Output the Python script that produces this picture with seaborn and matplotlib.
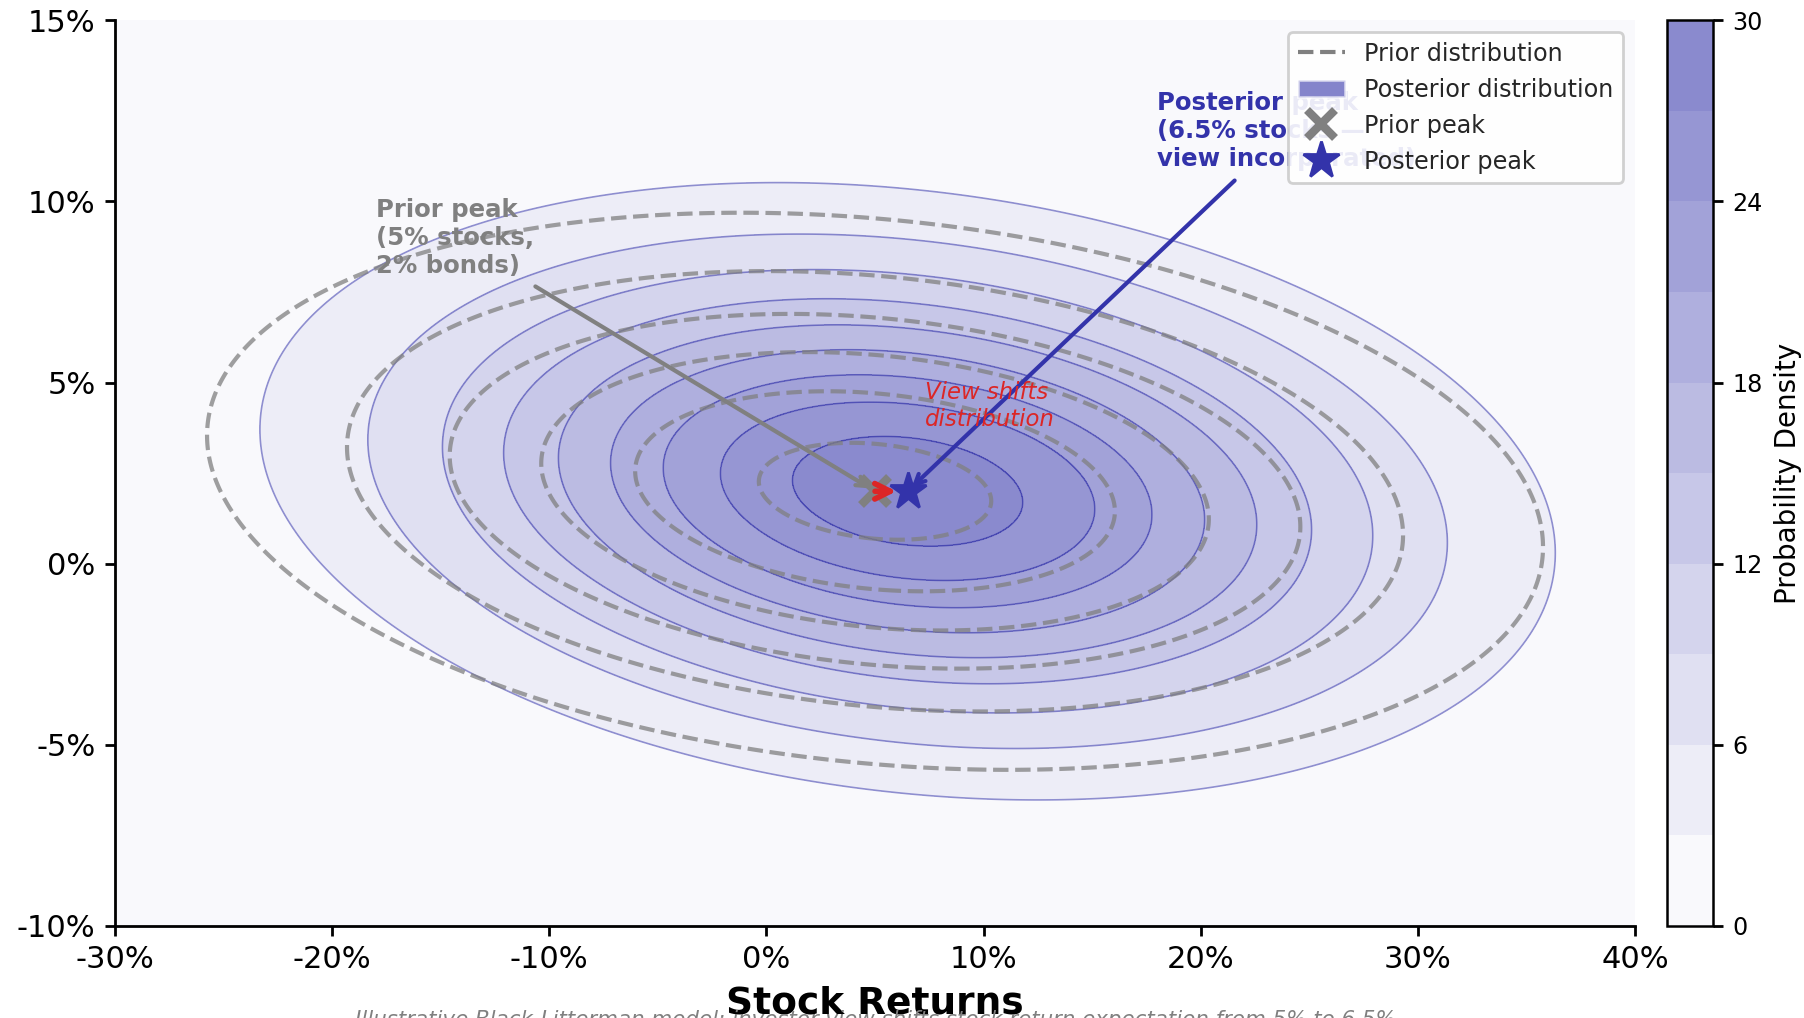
import numpy as np
import matplotlib
matplotlib.use("Agg")
import matplotlib.pyplot as plt
import seaborn as sns
from matplotlib.colors import LinearSegmentedColormap
from matplotlib.lines import Line2D
from matplotlib.patches import Patch
from matplotlib.ticker import FuncFormatter

# prior and posterior (stock return, bond return)
prior_mean = [0.05, 0.02]
prior_std = [0.16, 0.04]
posterior_mean = [0.065, 0.02]
posterior_std = [0.14, 0.04]
corr = -0.2

density_levels = [0, 3, 6, 9, 12, 15, 18, 21, 24, 27, 30]
prior_levels = [4, 8, 12, 16, 20, 24]
cbar_ticks = [0, 6, 12, 18, 24, 30]
x_ticks = [-0.3, -0.2, -0.1, 0.0, 0.1, 0.2, 0.3, 0.4]
y_ticks = [-0.10, -0.05, 0.0, 0.05, 0.10, 0.15]

blue = "#3333aa"
red = "#dc2626"
caption = ("Illustrative Black-Litterman model: investor view shifts stock "
           "return expectation from 5% to 6.5%")


def bvn_pdf(X, Y, mean, std, rho):
    zx = (X - mean[0]) / std[0]
    zy = (Y - mean[1]) / std[1]
    q = (zx**2 - 2 * rho * zx * zy + zy**2) / (1 - rho**2)
    return np.exp(-q / 2) / (2 * np.pi * std[0] * std[1] * np.sqrt(1 - rho**2))


sns.set_style("ticks")
plt.rcParams['font.family'] = ['DejaVu Sans']

x = np.linspace(-0.3, 0.4, 500)
y = np.linspace(-0.1, 0.15, 400)
X, Y = np.meshgrid(x, y)
Z_prior = bvn_pdf(X, Y, prior_mean, prior_std, corr)
Z_post = bvn_pdf(X, Y, posterior_mean, posterior_std, corr)

fig = plt.figure(figsize=(9.02, 5.09), dpi=200)
ax = fig.add_axes([0.0637, 0.0904, 0.8427, 0.8896])
cax = fig.add_axes([0.924, 0.0904, 0.0255, 0.8896])

cmap = LinearSegmentedColormap.from_list("post", ["white", blue])
cf = ax.contourf(X, Y, Z_post, levels=density_levels, cmap=cmap, alpha=0.6)
ax.contour(X, Y, Z_post, levels=density_levels[1:-1], colors=blue,
           linewidths=0.6, alpha=0.5)
ax.contour(X, Y, Z_prior, levels=prior_levels, colors="gray",
           linewidths=1.5, linestyles="--", alpha=0.75)

ax.plot(prior_mean[0], prior_mean[1], "x", color="gray", ms=10, mew=3, zorder=5)
ax.plot(posterior_mean[0], posterior_mean[1], "*", color=blue, ms=14, zorder=6)

# annotations
ax.annotate("Prior peak\n(5% stocks,\n2% bonds)", xy=prior_mean,
            xytext=(-0.18, 0.09), ha="left", va="center",
            fontsize=8.8, fontweight="bold", color="gray",
            arrowprops=dict(arrowstyle="->", color="gray", lw=1.5))
ax.annotate("Posterior peak\n(6.5% stocks —\nview incorporated)", xy=posterior_mean,
            xytext=(0.18, 0.1195), ha="left", va="center",
            fontsize=8.8, fontweight="bold", color=blue,
            arrowprops=dict(arrowstyle="->", color=blue, lw=1.5))
ax.annotate("", xy=posterior_mean, xytext=prior_mean,
            arrowprops=dict(arrowstyle="->", color=red, lw=2,
                            mutation_scale=14, shrinkA=0, shrinkB=4), zorder=5.5)
ax.text(0.073, 0.0435, "View shifts\ndistribution", ha="left", va="center",
        fontsize=8.2, style="italic", color=red)

ax.set_xlim(-0.3, 0.4)
ax.set_ylim(-0.1, 0.15)
ax.set_xticks(x_ticks)
ax.set_yticks(y_ticks)
pct = FuncFormatter(lambda v, p: f"{v:.0%}")
ax.xaxis.set_major_formatter(pct)
ax.yaxis.set_major_formatter(pct)
ax.tick_params(labelsize=11, length=3.5, width=1, color="black", labelcolor="black")
ax.set_xlabel("Stock Returns", fontsize=13.5, fontweight="bold", color="black")
for s in ["left", "bottom"]:
    ax.spines[s].set_color("black")
    ax.spines[s].set_linewidth(1)
sns.despine(ax=ax)

handles = [
    Line2D([0], [0], color="gray", lw=1.5, ls="--", label="Prior distribution"),
    Patch(facecolor=blue, alpha=0.6, label="Posterior distribution"),
    Line2D([0], [0], marker="x", color="gray", ls="none", ms=10, mew=3, label="Prior peak"),
    Line2D([0], [0], marker="*", color=blue, ls="none", ms=14, label="Posterior peak"),
]
ax.legend(handles=handles, loc="upper right", fontsize=8.6, framealpha=0.9)

cb = fig.colorbar(cf, cax=cax, ticks=cbar_ticks)
cb.set_label("Probability Density", fontsize=10, color="black")
cb.ax.tick_params(labelsize=8.6, length=3.5, width=1, color="black", labelcolor="black")
cb.outline.set_edgecolor("black")
cb.outline.set_linewidth(0.9)

fig.text(0.485, 0.008, caption, ha="center", va="top", fontsize=7.7,
         style="italic", color="gray")

fig.savefig("out.png", dpi=200)
